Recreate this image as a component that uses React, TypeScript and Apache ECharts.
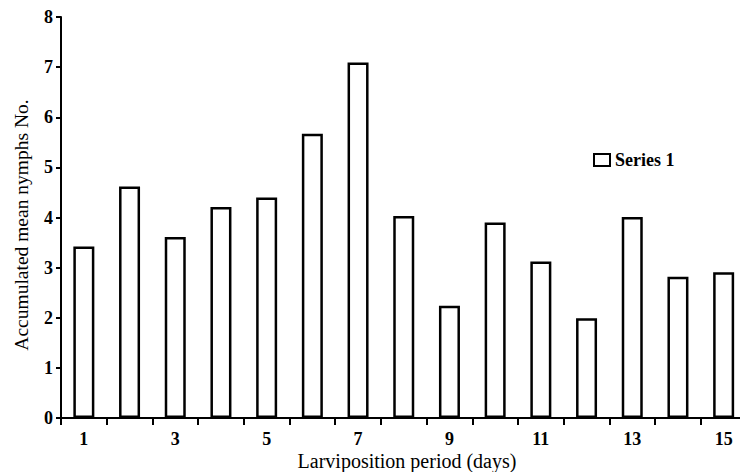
import React, { useEffect, useRef } from "react";
import * as echarts from "echarts";

const categories = ["1", "2", "3", "4", "5", "6", "7", "8", "9", "10", "11", "12", "13", "14", "15"];
const series1 = [3.42, 4.62, 3.61, 4.21, 4.4, 5.67, 7.09, 4.03, 2.24, 3.9, 3.12, 1.99, 4.01, 2.82, 2.91];
const yTicks = { min: 0, max: 8, interval: 1 };
const xTitle = "Larviposition period (days)";
const yTitle = "Accumulated mean nymphs No.";

const FONT = "Times New Roman";

export default function App() {
  const ref = useRef<HTMLDivElement>(null);
  useEffect(() => {
    if (!ref.current) return;
    const chart = echarts.init(ref.current, undefined, { renderer: "svg" });
    chart.setOption({
      animation: false,
      backgroundColor: "#ffffff",
      grid: { left: 61, top: 17, bottom: 54, right: -6.5, containLabel: false, outerBoundsMode: "none" },
      graphic: [
        {
          type: "text",
          x: 407,
          y: 461,
          style: {
            text: xTitle,
            font: `20px ${FONT}`,
            lineHeight: 18,
            fill: "#000",
            align: "center",
            verticalAlign: "middle",
          },
        },
        {
          type: "text",
          x: 21,
          y: 225,
          rotation: Math.PI / 2,
          style: {
            text: yTitle,
            font: `19.5px ${FONT}`,
            fill: "#000",
            align: "center",
            verticalAlign: "middle",
          },
        },
      ],
      legend: {
        show: true,
        left: 593,
        top: 151,
        padding: 0,
        icon: "rect",
        itemWidth: 16,
        itemHeight: 12,
        itemGap: 6,
        textStyle: { fontFamily: FONT, fontSize: 18, fontWeight: "bold", color: "#000", lineHeight: 18 },
        data: [{ name: "Series 1", itemStyle: { color: "#fff", borderColor: "#000", borderWidth: 2 } }],
      },
      xAxis: {
        type: "category",
        data: categories,
        axisLine: { lineStyle: { color: "#000", width: 2 } },
        axisTick: { show: true, interval: 0, length: 7, lineStyle: { color: "#000", width: 2 } },
        axisLabel: { interval: 1, margin: 12, lineHeight: 18, fontFamily: FONT, fontSize: 18, fontWeight: "bold", color: "#000" },
        splitLine: { show: false },
      },
      yAxis: {
        type: "value",
        min: yTicks.min,
        max: yTicks.max,
        interval: yTicks.interval,
        axisLine: { show: true, lineStyle: { color: "#000", width: 2 } },
        axisTick: { show: true, length: 5, lineStyle: { color: "#000", width: 2 } },
        axisLabel: { margin: 8, fontFamily: FONT, fontSize: 18, fontWeight: "bold", color: "#000" },
        splitLine: { show: false },
      },
      series: [
        {
          name: "Series 1",
          type: "bar",
          data: series1,
          barWidth: 21,
          itemStyle: { color: "#fff", borderColor: "#000", borderWidth: 2.5 },
        },
      ],
    });
    return () => chart.dispose();
  }, []);
  return (
    <div
      ref={ref}
      style={{ position: "fixed", left: 0, top: 0, width: 740, height: 472, background: "#fff" }}
    />
  );
}
